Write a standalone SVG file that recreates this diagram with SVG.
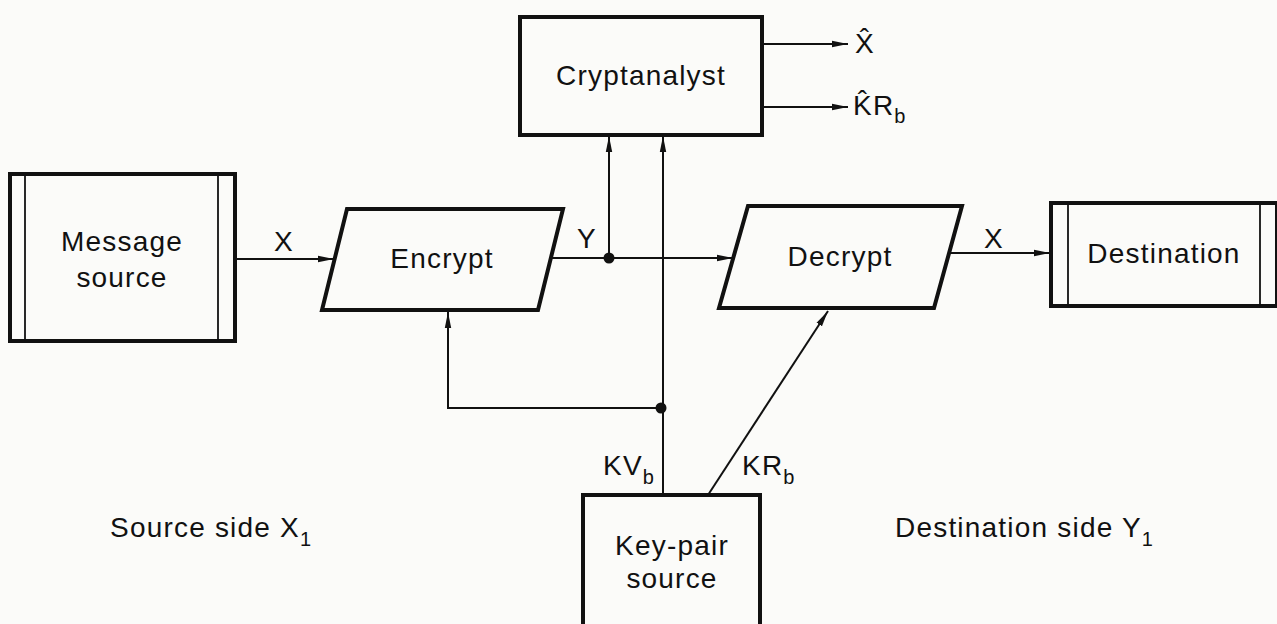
<svg xmlns="http://www.w3.org/2000/svg" width="1277" height="624" viewBox="0 0 1277 624">
<style>
.box{fill:none;stroke:#111;stroke-width:4}
.thin{fill:none;stroke:#111;stroke-width:1.8}
.conn{fill:none;stroke:#111;stroke-width:2}
text{font-family:"Liberation Sans",Arial,sans-serif;font-size:28px;fill:#111;letter-spacing:1.2px}
.c{text-anchor:middle}
.sub{font-size:20px}
</style>
<defs>
<marker id="arr" viewBox="0 0 16 8" refX="16" refY="4" markerWidth="16" markerHeight="8" markerUnits="userSpaceOnUse" orient="auto">
<path d="M0,0.8 L16,4 L0,7.2 Z" fill="#111"/>
</marker>
</defs>
<rect width="1277" height="624" fill="#fbfbf9"/>
<g id="message-source">
<rect class="box" x="10" y="174" width="225" height="167"/>
<line class="thin" x1="25" y1="174" x2="25" y2="341"/>
<line class="thin" x1="218" y1="174" x2="218" y2="341"/>
<text class="c" x="122" y="251">Message</text>
<text class="c" x="122" y="287">source</text>
</g>
<g id="encrypt">
<polygon class="box" points="347,209 563,209 538,310 322,310"/>
<text class="c" x="442" y="268">Encrypt</text>
</g>
<g id="cryptanalyst">
<rect class="box" x="520" y="17" width="242" height="118"/>
<text class="c" x="641" y="85">Cryptanalyst</text>
</g>
<g id="decrypt">
<polygon class="box" points="748,206 962,206 934,308 719,308"/>
<text class="c" x="840" y="266">Decrypt</text>
</g>
<g id="destination">
<rect class="box" x="1051" y="203" width="226" height="103"/>
<line class="thin" x1="1068" y1="203" x2="1068" y2="306"/>
<line class="thin" x1="1260" y1="203" x2="1260" y2="306"/>
<text class="c" x="1164" y="263">Destination</text>
</g>
<g id="key-pair-source">
<rect class="box" x="583" y="495" width="177" height="140"/>
<text class="c" x="672" y="555">Key-pair</text>
<text class="c" x="672" y="588">source</text>
</g>
<g id="connectors">
<line class="conn" x1="235" y1="259" x2="334" y2="259" marker-end="url(#arr)"/>
<line class="conn" x1="551" y1="258" x2="733" y2="258" marker-end="url(#arr)"/>
<line class="conn" x1="609" y1="258" x2="609" y2="136" marker-end="url(#arr)"/>
<line class="conn" x1="663" y1="495" x2="663" y2="136" marker-end="url(#arr)"/>
<polyline class="conn" points="663,408 448,408 448,312" marker-end="url(#arr)"/>
<line class="conn" x1="708" y1="495" x2="828" y2="311" marker-end="url(#arr)"/>
<line class="conn" x1="948" y1="253" x2="1050" y2="253" marker-end="url(#arr)"/>
<line class="conn" x1="762" y1="44" x2="848" y2="44" marker-end="url(#arr)"/>
<line class="conn" x1="762" y1="107" x2="848" y2="107" marker-end="url(#arr)"/>
<circle cx="609" cy="258" r="5.5" fill="#111"/>
<circle cx="661" cy="408" r="5.5" fill="#111"/>
</g>
<g id="labels">
<text class="c" x="284" y="251">X</text>
<text class="c" x="587" y="248">Y</text>
<text class="c" x="994" y="248">X</text>
<text x="855" y="53">X&#770;</text>
<text x="853" y="115">K&#770;R<tspan class="sub" dy="8">b</tspan></text>
<text x="603" y="475">KV<tspan class="sub" dy="9">b</tspan></text>
<text x="742" y="475">KR<tspan class="sub" dy="9">b</tspan></text>
<text x="110" y="537">Source side X<tspan class="sub" dy="9">1</tspan></text>
<text x="895" y="537">Destination side Y<tspan class="sub" dy="9">1</tspan></text>
</g>
</svg>
